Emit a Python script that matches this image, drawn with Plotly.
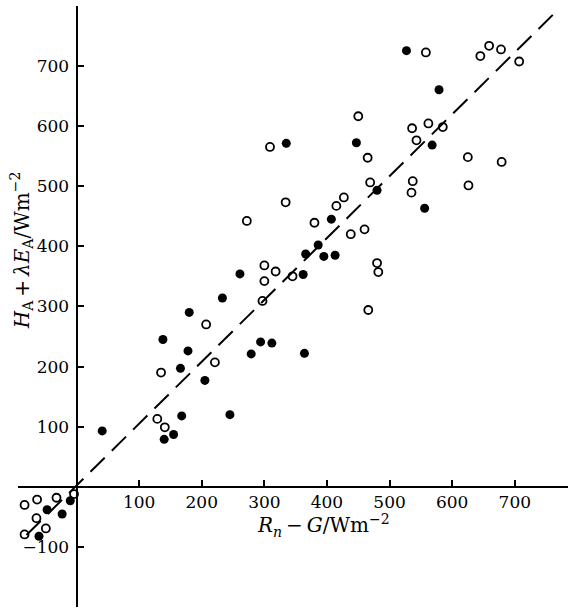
import plotly.graph_objects as go

# Available energy (Rn - G) vs. turbulent flux sum (H_A + lambda*E_A), W m^-2
filled_x = [527, 579, 335, 447, 568, 480, 556, 407, 386, 366, 395, 413, 362, 261,
            233, 180, 138, 178, 294, 312, 279, 364, 166, 205, 168, 245, 155, 140, 41,
            -10, -47, -23, -60]
filled_y = [725, 660, 571, 572, 568, 493, 463, 445, 402, 387, 383, 385, 353, 354,
            314, 290, 245, 226, 241, 239, 221, 222, 197, 177, 118, 120, 87, 79, 93,
            -23, -38, -45, -82]

open_x = [558, 645, 659, 678, 707, 450, 309, 536, 562, 585, 543, 465, 625, 679,
          469, 537, 535, 626, 334, 427, 415, 380, 438, 460, 480, 482, 318, 345,
          466, 272, 300, 300, 297, 207, 221, 135, 129, 141,
          -83, -63, -32, -64, -49, -83, -4]
open_y = [722, 716, 733, 727, 707, 616, 565, 596, 604, 598, 576, 547, 548, 540,
          506, 508, 489, 501, 473, 481, 467, 439, 420, 428, 372, 357, 358, 350,
          294, 442, 368, 342, 309, 270, 207, 190, 113, 99,
          -30, -21, -18, -52, -69, -79, -12]

# Reference line through the origin
line_x = [-80, 768]
line_y = [-80, 792]

x_ticks = [100, 200, 300, 400, 500, 600, 700]
y_ticks = [-100, 100, 200, 300, 400, 500, 600, 700]

x_range = [-93.5, 785]
y_range = [-199.6, 799.2]

serif = "DejaVu Serif, Liberation Serif, serif"

fig = go.Figure()

fig.add_trace(go.Scatter(
    x=line_x, y=line_y, mode="lines",
    line=dict(color="black", width=2, dash="20px,10px"),
    hoverinfo="skip", showlegend=False,
))

fig.add_trace(go.Scatter(
    x=open_x, y=open_y, mode="markers",
    marker=dict(symbol="circle-open", size=8, color="black", line=dict(width=1.8)),
    showlegend=False,
))

fig.add_trace(go.Scatter(
    x=filled_x, y=filled_y, mode="markers",
    marker=dict(symbol="circle", size=9, color="black"),
    showlegend=False,
))

# Axes cross at the origin
x_pos = (0 - y_range[0]) / (y_range[1] - y_range[0])
y_pos = (0 - x_range[0]) / (x_range[1] - x_range[0])

fig.update_xaxes(
    range=x_range, anchor="free", position=x_pos,
    showline=True, linecolor="black", linewidth=2,
    showgrid=False, zeroline=False,
    tickmode="array",
    tickvals=[x_range[0] + 1] + x_ticks,
    ticktext=[""] + [str(v) for v in x_ticks],
    ticks="inside", ticklen=6, tickwidth=2, tickcolor="black",
    tickfont=dict(family=serif, size=17, color="black"),
)
fig.update_yaxes(
    range=y_range, anchor="free", position=y_pos,
    showline=True, linecolor="black", linewidth=2,
    showgrid=False, zeroline=False,
    tickmode="array",
    tickvals=y_ticks + [y_range[1] - 1],
    ticktext=[str(v).replace("-", "\u2212") for v in y_ticks] + [""],
    ticks="inside", ticklen=6, tickwidth=2, tickcolor="black",
    ticklabelstandoff=3,
    tickfont=dict(family=serif, size=17, color="black"),
)

fig.add_annotation(
    text="<i>R</i><sub><i>n</i></sub>\u2009\u2212\u2009<i>G</i>/Wm<sup>\u22122</sup>",
    xref="paper", yref="paper", x=0.555, y=0.136,
    xanchor="center", yanchor="middle",
    showarrow=False, font=dict(family=serif, size=20, color="black"),
)
fig.add_annotation(
    text="<i>H</i><sub>A</sub>\u2009+\u2009<i>\u03bbE</i><sub>A</sub>/Wm<sup>\u22122</sup>",
    xref="paper", yref="paper", x=0.006, y=0.594, textangle=-90,
    xanchor="center", yanchor="middle",
    showarrow=False, font=dict(family=serif, size=20, color="black"),
)

fig.update_layout(
    width=568, height=610,
    margin=dict(l=18, r=0, t=6, b=3),
    paper_bgcolor="white", plot_bgcolor="white",
    showlegend=False,
)

fig.write_html("out.html")
